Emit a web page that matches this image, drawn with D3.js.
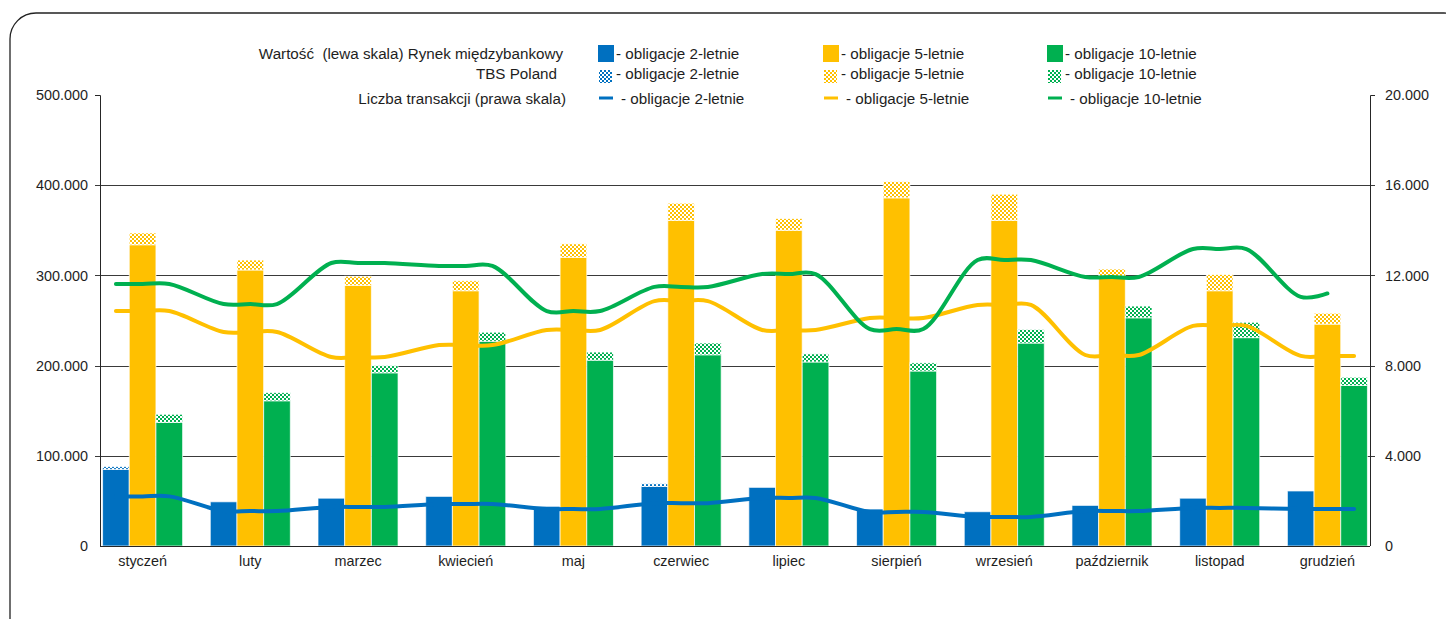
<!DOCTYPE html>
<html>
<head>
<meta charset="utf-8">
<title>Obligacje</title>
<script src="https://cdn.jsdelivr.net/npm/d3@7"></script>
<style>
  body { margin: 0; background: #fff; }
  text { font-family: "Liberation Sans", Arial, sans-serif; font-size: 14.4px; fill: #1e1e1e; }
  .legend text { font-size: 15.2px; }
  .grid line { stroke: #3a3a3a; stroke-width: 1px; }
  .axis path, .axis line { stroke: #262626; }
  .axis text { font-size: 14.4px; fill: #1e1e1e; }
  .bar { stroke: #fff; stroke-opacity: 0.7; stroke-width: 1px; }
  .trend { fill: none; stroke-width: 4px; stroke-linecap: round; }
</style>
</head>
<body>
<div id="chart"></div>
<script>
var months = ["styczeń", "luty", "marzec", "kwiecień", "maj", "czerwiec", "lipiec", "sierpień", "wrzesień", "październik", "listopad", "grudzień"];
var series = ["2-letnie", "5-letnie", "10-letnie"];
var colors = ["#0070C0", "#FFC000", "#00B050"];

// Wartość - Rynek międzybankowy (lewa skala)
var rynek2 = [85000, 49000, 53000, 55000, 44000, 66000, 65000, 41000, 38000, 45000, 53000, 61000];
var rynek5 = [334000, 306000, 289000, 283000, 320000, 361000, 350000, 386000, 361000, 297000, 283000, 246000];
var rynek10 = [137000, 161000, 192000, 227000, 206000, 212000, 204000, 194000, 225000, 253000, 231000, 178000];
// Wartość - TBS Poland
var tbs2 = [3000, 0, 0, 0, 0, 3000, 0, 0, 0, 0, 0, 0];
var tbs5 = [13000, 11000, 10000, 11000, 15000, 19000, 13000, 18000, 29000, 10000, 18000, 12000];
var tbs10 = [9000, 9000, 8000, 10000, 9000, 13000, 9000, 9000, 15000, 13000, 17000, 9000];
// Liczba transakcji (prawa skala)
var tr2 = [2200, 1550, 1730, 1860, 1640, 1900, 2130, 1510, 1290, 1550, 1690, 1640];
var tr5 = [10420, 9490, 8380, 8910, 9580, 10860, 9580, 10110, 10690, 8470, 9760, 8430];
var tr10 = [11620, 10730, 12550, 12420, 10420, 11490, 12060, 9620, 12680, 11930, 13170, 11050];
var tr10Last = 11200; // ostatni punkt linii 10-letnich

var leftTicks = [0, 100000, 200000, 300000, 400000, 500000];
var rightTicks = [0, 4000, 8000, 12000, 16000, 20000];

var width = 1446, height = 619;
var svg = d3.select("#chart").append("svg")
  .attr("width", width).attr("height", height);

var defs = svg.append("defs");
colors.forEach(function(c, i) {
  var p = defs.append("pattern").attr("id", "chk" + i)
    .attr("patternUnits", "userSpaceOnUse").attr("width", 4).attr("height", 4);
  p.append("rect").attr("width", 4).attr("height", 4).attr("fill", c);
  p.append("rect").attr("width", 2).attr("height", 2).attr("fill", "#fff");
  p.append("rect").attr("x", 2).attr("y", 2).attr("width", 2).attr("height", 2).attr("fill", "#fff");
});

// ramka
svg.append("rect").attr("x", 10).attr("y", 13).attr("width", 1460).attr("height", 640)
  .attr("rx", 26).attr("fill", "none").attr("stroke", "#222").attr("stroke-width", 1.3);

var pLeft = 100, pRight = 1370, pTop = 95, pBottom = 546;

var x = d3.scaleBand().domain(months).range([pLeft, pRight]).paddingInner(0.257).paddingOuter(0.024);
var xs = d3.scaleBand().domain(series).range([0, x.bandwidth()]);
var yL = d3.scaleLinear().domain([0, 500000]).range([pBottom, pTop]);
var yR = d3.scaleLinear().domain([0, 20000]).range([pBottom, pTop]);

var fmt = d3.formatLocale({ decimal: ",", thousands: ".", grouping: [3], currency: ["", ""] }).format(",");

// siatka
svg.append("g").attr("class", "grid")
  .selectAll("line").data(leftTicks.slice(1, 5)).enter().append("line")
  .attr("x1", pLeft - 5).attr("x2", pRight + 5)
  .attr("y1", function(d) { return Math.round(yL(d)) + 0.5; })
  .attr("y2", function(d) { return Math.round(yL(d)) + 0.5; });

// słupki
var solid = [rynek2, rynek5, rynek10];
var checked = [tbs2, tbs5, tbs10];
series.forEach(function(s, i) {
  var g = svg.append("g");
  g.selectAll(".s").data(months).enter().append("rect")
    .attr("class", "bar")
    .attr("x", function(m) { return x(m) + xs(s); })
    .attr("width", xs.bandwidth())
    .attr("y", function(m, j) { return yL(solid[i][j]); })
    .attr("height", function(m, j) { return pBottom - yL(solid[i][j]); })
    .attr("fill", colors[i]);
  g.selectAll(".c").data(months).enter().append("rect")
    .attr("class", "bar")
    .attr("x", function(m) { return x(m) + xs(s); })
    .attr("width", xs.bandwidth())
    .attr("y", function(m, j) { return yL(solid[i][j] + checked[i][j]); })
    .attr("height", function(m, j) { return yL(solid[i][j]) - yL(solid[i][j] + checked[i][j]); })
    .attr("fill", "url(#chk" + i + ")")
    .style("display", function(m, j) { return checked[i][j] > 0 ? null : "none"; });
});

// linie
var trends = [tr2, tr5, tr10];
var line = d3.line().curve(d3.curveCatmullRom.alpha(0.5))
  .x(function(d) { return d[0]; }).y(function(d) { return yR(d[1]); });
trends.forEach(function(t, i) {
  var pts = [];
  months.forEach(function(m, j) {
    var n = (i == 2 && j == 11) ? 2 : 3;
    for (var k = 0; k < n; k++) {
      var v = t[j];
      if (i == 2 && j == 11 && k == 1) v = tr10Last;
      pts.push([x(m) + xs(series[k]) + xs.bandwidth() / 2, v]);
    }
  });
  svg.append("path").attr("class", "trend").attr("d", line(pts)).attr("stroke", colors[i]);
});

// osie
svg.append("g").attr("class", "axis")
  .attr("transform", "translate(" + pLeft + ",0)")
  .call(d3.axisLeft(yL).tickValues(leftTicks).tickSize(5).tickPadding(7).tickFormat(fmt))
  .call(function(g) {
    g.attr("font-family", null).attr("font-size", null);
    g.select(".domain").attr("d", "M-5," + (pTop + 0.5) + "H0.5V" + pBottom);
    g.selectAll(".tick line").remove();
  });
svg.append("g").attr("class", "axis")
  .attr("transform", "translate(" + pRight + ",0)")
  .call(d3.axisRight(yR).tickValues(rightTicks).tickSize(5).tickPadding(10).tickFormat(fmt))
  .call(function(g) {
    g.attr("font-family", null).attr("font-size", null);
    g.select(".domain").attr("d", "M5," + (pTop + 0.5) + "H0.5V" + pBottom);
    g.selectAll(".tick line").remove();
  });
svg.append("line").attr("x1", pLeft).attr("x2", pRight).attr("y1", pBottom + 0.5).attr("y2", pBottom + 0.5)
  .attr("stroke", "#262626");
svg.append("g").selectAll("text").data(months).enter().append("text")
  .attr("x", function(m) { return x(m) + x.bandwidth() / 2; })
  .attr("y", 566).attr("text-anchor", "middle").text(function(m) { return m; });

// legenda
var rowLabels = ["Wartość  (lewa skala) Rynek międzybankowy", "TBS Poland", "Liczba transakcji (prawa skala)"];
var rowY = [59, 79, 104];
var rowRight = [563, 557, 566];
var colX = [598, 823, 1047];
var leg = svg.append("g").attr("class", "legend");
rowLabels.forEach(function(r, k) {
  leg.append("text").attr("x", rowRight[k]).attr("y", rowY[k]).attr("text-anchor", "end")
    .style("white-space", "pre").text(r);
});
series.forEach(function(s, i) {
  var cx = colX[i];
  leg.append("rect").attr("x", cx).attr("y", 45).attr("width", 16).attr("height", 17).attr("fill", colors[i]);
  leg.append("text").attr("x", cx + 18).attr("y", rowY[0]).text("- obligacje " + s);
  leg.append("rect").attr("x", cx + 1).attr("y", 70).attr("width", 13).attr("height", 13)
    .attr("fill", "url(#chk" + i + ")");
  leg.append("text").attr("x", cx + 18).attr("y", rowY[1]).text("- obligacje " + s);
  leg.append("line").attr("x1", cx + 1).attr("x2", cx + 15).attr("y1", 98).attr("y2", 98)
    .attr("stroke", colors[i]).attr("stroke-width", 3);
  leg.append("text").attr("x", cx + 23).attr("y", rowY[2]).text("- obligacje " + s);
});
</script>
</body>
</html>
